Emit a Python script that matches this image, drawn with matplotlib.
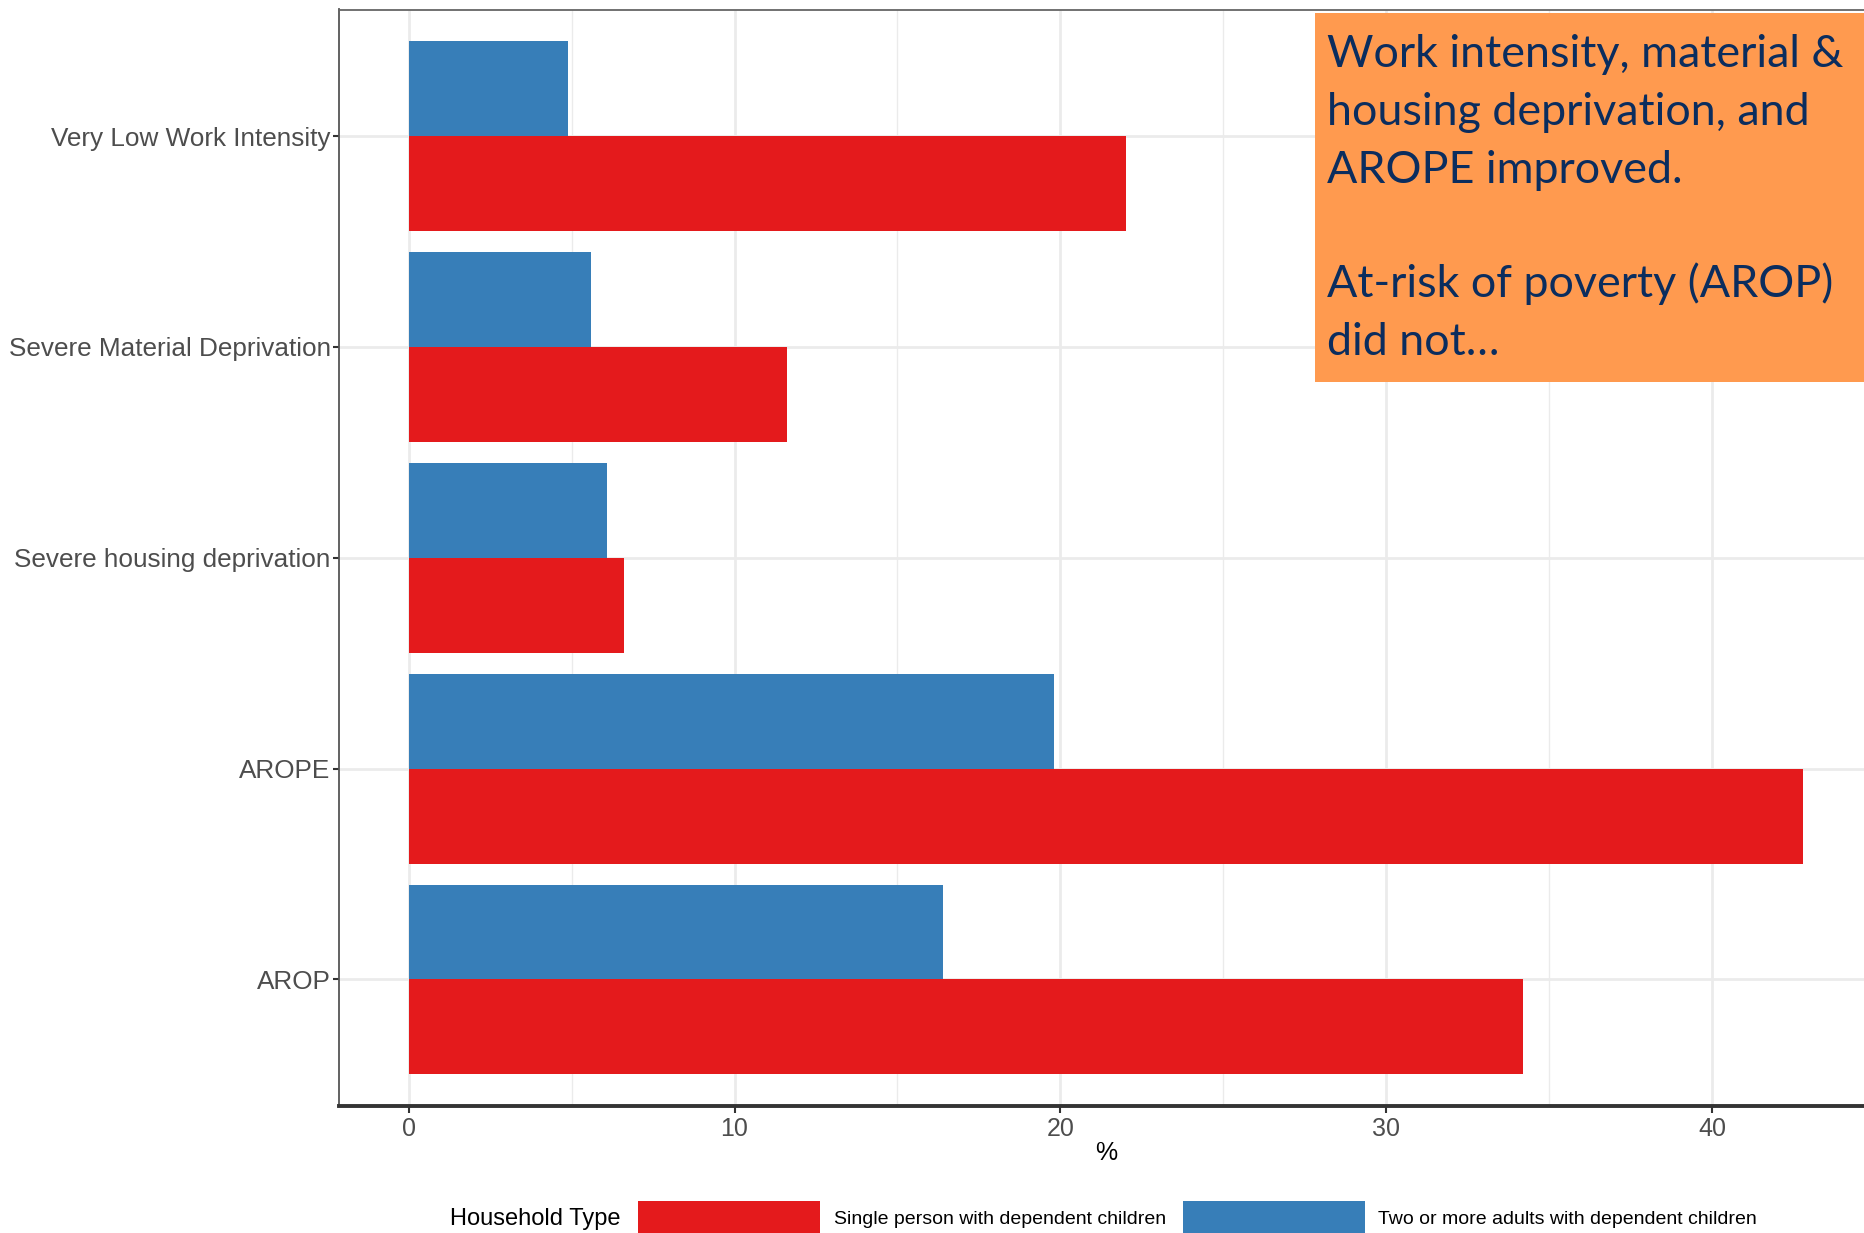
import matplotlib
matplotlib.use('Agg')
import matplotlib.pyplot as plt
import numpy as np
from matplotlib.patches import Rectangle

categories = ["AROP", "AROPE", "Severe housing deprivation",
              "Severe Material Deprivation", "Very Low Work Intensity"]
single_parent = [34.2, 42.8, 6.6, 11.6, 22.0]
two_adults = [16.4, 19.8, 6.1, 5.6, 4.9]
series_labels = ["Single person with dependent children",
                 "Two or more adults with dependent children"]
legend_title = "Household Type"
x_ticks = [0, 10, 20, 30, 40]
x_minor = [5, 15, 25, 35]
note_lines = ["Work intensity, material &", "housing deprivation, and",
              "AROPE improved.", "", "At-risk of poverty (AROP)", "did not…"]

RED = '#E41A1C'
BLUE = '#377EB8'
GRID = '#EBEBEB'

W, H = 1864, 1233
fig = plt.figure(figsize=(W / 100, H / 100), dpi=100)
fig.patch.set_facecolor('white')

ax_l, ax_r, ax_t, ax_b = 339, 1873, 9.5, 1106
ax = fig.add_axes([ax_l / W, 1 - ax_b / H, (ax_r - ax_l) / W, (ax_b - ax_t) / H])

y = np.arange(1, len(categories) + 1)
bw = 0.45
ax.barh(y - bw / 2, single_parent, height=bw, color=RED, zorder=3)
ax.barh(y + bw / 2, two_adults, height=bw, color=BLUE, zorder=3)

ax.set_ylim(0.4, 5.6)
ax.set_xlim(-2.14, 44.94)

ax.set_xticks(x_ticks)
ax.set_xticks(x_minor, minor=True)
ax.set_yticks(y)
ax.set_yticklabels(categories)
ax.set_xticklabels([str(t) for t in x_ticks])

ax.grid(True, which='major', axis='both', color=GRID, linewidth=2.0, zorder=0)
ax.grid(True, which='minor', axis='x', color=GRID, linewidth=1.0, zorder=0)
ax.set_axisbelow(True)

ax.tick_params(axis='x', which='major', length=5, width=1.5, color='#333333',
               labelsize=18, labelcolor='#4D4D4D', pad=3)
ax.tick_params(axis='y', which='major', length=4, width=1.5, color='#333333',
               labelsize=18.8, labelcolor='#4D4D4D', pad=2)
ax.tick_params(axis='both', which='minor', length=0)
for lab in ax.get_yticklabels() + ax.get_xticklabels():
    lab.set_family('Liberation Sans')

ax.spines['left'].set_color('#555555')
ax.spines['left'].set_linewidth(1.3)
ax.spines['top'].set_color('#666666')
ax.spines['top'].set_linewidth(1.3)
ax.spines['right'].set_visible(False)
ax.spines['bottom'].set_color('#333333')
ax.spines['bottom'].set_linewidth(2.8)

ax.set_xlabel('%', fontsize=18, family='Liberation Sans', color='black', labelpad=0)

# Legend (manual, bottom strip)
fig.text(450 / W, 1 - 1219.5 / H, legend_title, fontsize=17, family='Liberation Sans',
         color='black', va='center', ha='left')
key_x = [638, 1183]
lab_x = [834, 1378]
for kx, lx, col, lab in zip(key_x, lab_x, [RED, BLUE], series_labels):
    fig.add_artist(Rectangle((kx / W, 0), 182 / W, (1233 - 1201) / H,
                             transform=fig.transFigure, facecolor=col, edgecolor='none'))
    fig.text(lx / W, 1 - 1219 / H, lab, fontsize=14, family='Liberation Sans',
             color='black', va='center', ha='left')

# Orange annotation box
fig.add_artist(Rectangle((1315 / W, 1 - 381.7 / H), (W - 1315) / W, (381.7 - 12.7) / H,
                         transform=fig.transFigure, facecolor='#FF9A4F', edgecolor='none',
                         zorder=5))
baselines = [66.7, 125, 182.7, 240, 296.7, 355]
for line, b in zip(note_lines, baselines):
    if line:
        fig.text(1327 / W, 1 - b / H, line, fontsize=32.3, family='Lato',
                 color='#0B2D5E', va='baseline', ha='left', zorder=6)

fig.savefig('out.png', dpi=100)
